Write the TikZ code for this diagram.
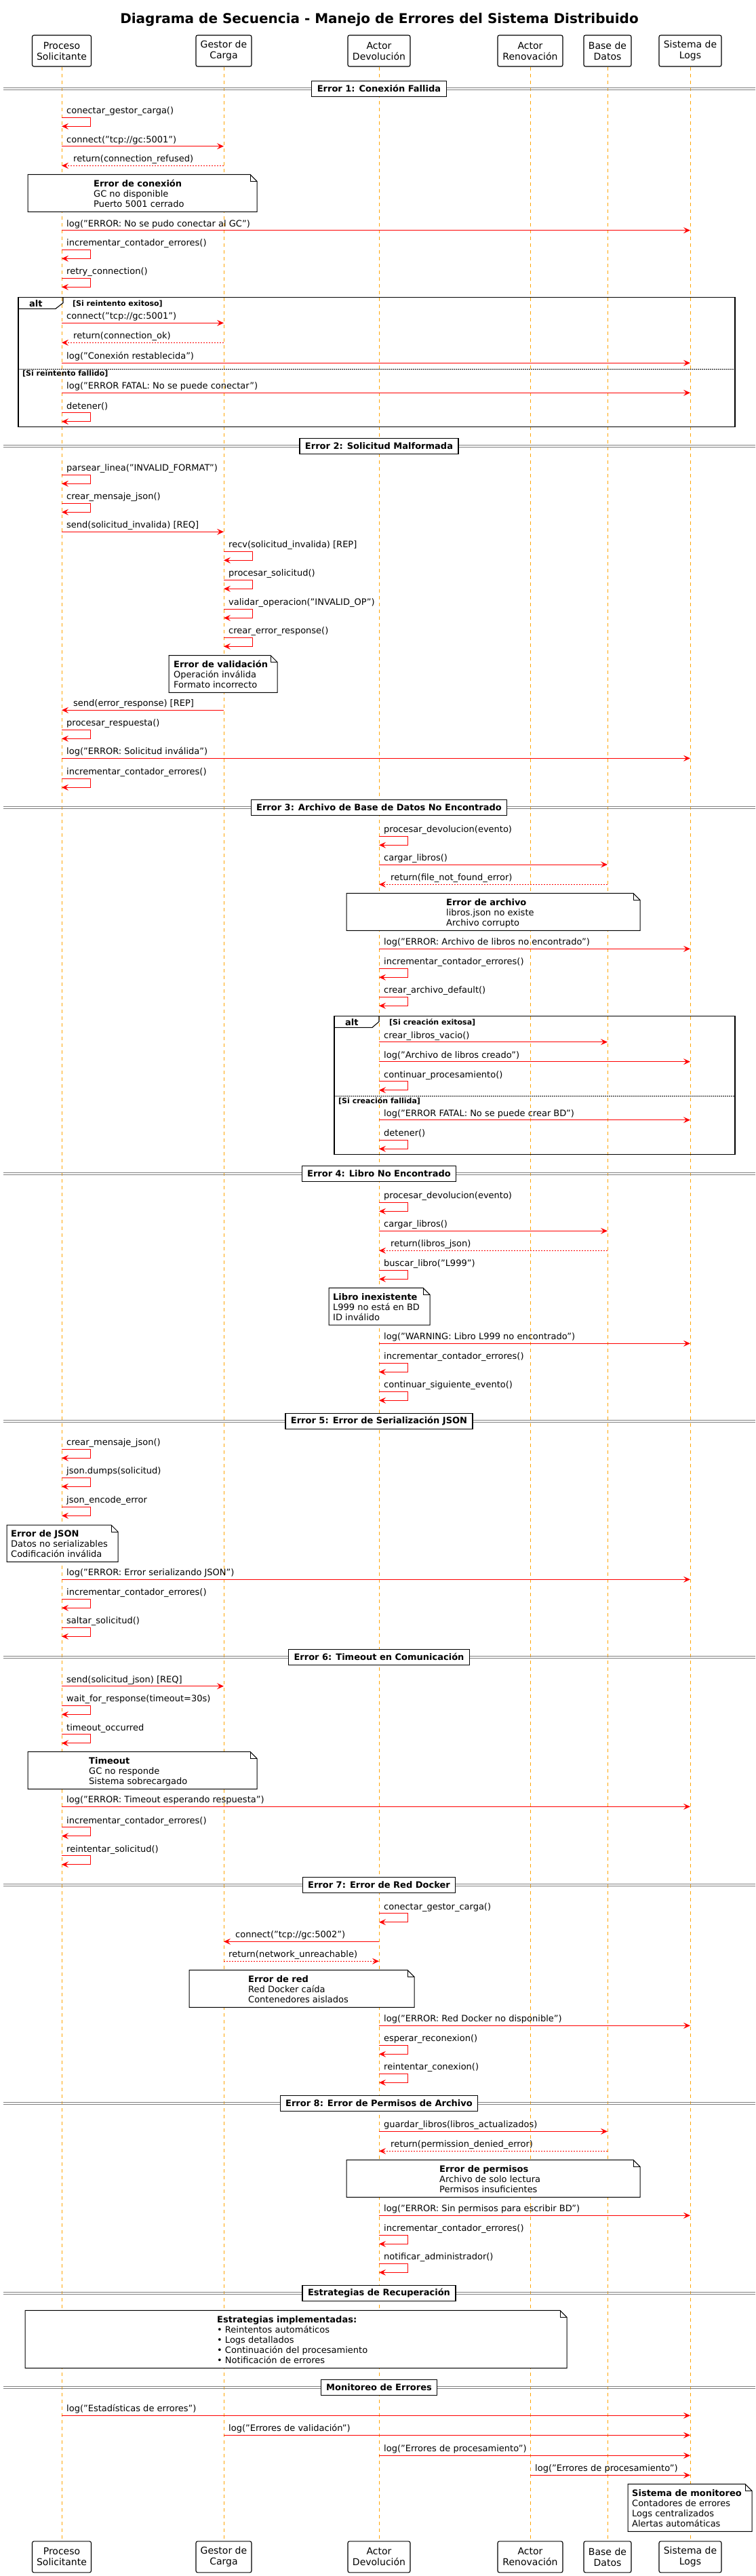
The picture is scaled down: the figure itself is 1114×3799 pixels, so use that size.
\documentclass[tikz,border=0pt]{standalone}
\usepackage{fontspec}
\setmainfont{DejaVu Sans}
\usetikzlibrary{arrows.meta,calc}
\definecolor{llcol}{RGB}{255,165,0}
\definecolor{divgrey}{RGB}{128,128,128}
\tikzset{
  part/.style={draw, line width=1.1pt, rounded corners=2.5pt, fill=white, minimum height=46pt, inner sep=0pt, align=center, font=\fontsize{14}{16}\selectfont},
  lifeline/.style={draw=llcol, line width=0.9pt, dash pattern=on 5pt off 5pt},
  msg/.style={draw=red, line width=1pt},
  arr/.style={-{Stealth[length=10pt,width=9pt,inset=4pt]}},
  ret/.style={dash pattern=on 2pt off 2pt},
  lbl/.style={anchor=base west, inner sep=0pt, font=\fontsize{13}{15}\selectfont},
  notestyle/.style={draw, line width=1pt, fill=white, line join=miter},
  notetext/.style={anchor=north west, inner sep=0pt, align=left, font=\fontsize{13}{15}\selectfont},
  divline/.style={draw=divgrey, line width=1pt},
  divbox/.style={draw, line width=1.2pt, fill=white, minimum height=23pt, inner xsep=8pt, inner ysep=0pt, font=\fontsize{13}{15}\selectfont\bfseries},
  frame/.style={draw, line width=1.1pt},
  sepdot/.style={draw, line width=0.8pt, dash pattern=on 1.5pt off 1.5pt},
  altlbl/.style={anchor=base west, inner sep=0pt, font=\fontsize{13}{15}\selectfont\bfseries},
  guard/.style={anchor=base west, inner sep=0pt, font=\fontsize{11}{13}\selectfont\bfseries},
}
\newcommand\selfmsg[4]{%
  \coordinate (#1a) at (#2 |- 0,#3);
  \coordinate (#1b) at ($(#1a)+(42,0)$);
  \coordinate (#1c) at ($(#1a)+(42,13)$);
  \coordinate (#1d) at ($(#1a)+(0,13)$);
  \draw[msg,arr] (#1a) -- (#1b) -- (#1c) -- (#1d);
  \node[lbl] (#1t) at ($(#1a)+(7,-5.7)$) {#4};
}
\newcommand\msgR[6][]{%
  \coordinate (#2a) at (#3 |- 0,#5);
  \coordinate (#2b) at (#4 |- 0,#5);
  \draw[msg,arr,#1] (#2a) -- (#2b);
  \node[lbl] (#2t) at ($(#2a)+(7,-5.7)$) {#6};
}
\newcommand\msgL[6][]{%
  \coordinate (#2a) at (#3 |- 0,#5);
  \coordinate (#2b) at (#4 |- 0,#5);
  \draw[msg,arr,#1] (#2a) -- (#2b);
  \node[lbl] (#2t) at ($(#2b)+(17,-5.7)$) {#6};
}
\newcommand\notebox[7]{%
  \draw[notestyle] (#2,#3) -- (#4-10,#3) -- (#4,#3+10) -- (#4,#5) -- (#2,#5) -- cycle;
  \draw[line width=0.8pt] (#4-10,#3) -- (#4-10,#3+10) -- (#4,#3+10);
  \node[notetext] (#1) at (#6,#3+5.7) {\rule{0pt}{12pt}#7};
}
\newcommand\divider[3]{%
  \draw[divline] (5,#2-1.35) -- (1114,#2-1.35);
  \draw[divline] (5,#2+1.35) -- (1114,#2+1.35);
  \node[divbox] (#1) at (559,#2) {#3};
}
\begin{document}
\begin{tikzpicture}[x=1pt,y=-1pt]
\useasboundingbox (0,0) rectangle (1114,3799);
\fill[white] (0,0) rectangle (1114,3799);

\node[font=\fontsize{20}{24}\selectfont\bfseries, inner sep=0pt] (title) at (559.5,29) {Diagrama de Secuencia - Manejo de Errores del Sistema Distribuido};

% participants
\node[part, minimum width=87pt] (hP) at (91,75) {Proceso\\Solicitante};
\node[part, minimum width=82pt] (hG) at (330,75) {Gestor de\\Carga};
\node[part, minimum width=92pt] (hD) at (559,75) {Actor\\Devolución};
\node[part, minimum width=96pt] (hR) at (782,75) {Actor\\Renovación};
\node[part, minimum width=70pt] (hB) at (896,75) {Base de\\Datos};
\node[part, minimum width=92pt] (hL) at (1018,75) {Sistema de\\Logs};
\node[part, minimum width=87pt] (fP) at (91,3770.8) {Proceso\\Solicitante};
\node[part, minimum width=82pt] (fG) at (330,3770.8) {Gestor de\\Carga};
\node[part, minimum width=92pt] (fD) at (559,3770.8) {Actor\\Devolución};
\node[part, minimum width=96pt] (fR) at (782,3770.8) {Actor\\Renovación};
\node[part, minimum width=70pt] (fB) at (896,3770.8) {Base de\\Datos};
\node[part, minimum width=92pt] (fL) at (1018,3770.8) {Sistema de\\Logs};

\foreach \p in {P,G,D,R,B,L} {\draw[lifeline] (h\p.south) -- (f\p.north);}

% ---------- Error 1
\divider{d1}{130.7}{Error 1: Conexión Fallida}
\selfmsg{s1}{hP}{173.3}{conectar\_gestor\_carga()}
\msgR{m2}{hP}{hG}{215.7}{connect("tcp://gc:5001")}
\msgL[ret]{m3}{hG}{hP}{244.3}{return(connection\_refused)}
\notebox{n1}{41}{257.3}{379}{312.3}{138}{\textbf{Error de conexión}\\GC no disponible\\Puerto 5001 cerrado}
\msgR{m5}{hP}{hL}{339.7}{log("ERROR: No se pudo conectar al GC")}
\selfmsg{s6}{hP}{368.3}{incrementar\_contador\_errores()}
\selfmsg{s7}{hP}{410.3}{retry\_connection()}
\draw[frame] (27,438.3) rectangle (1084,629.3);
\draw[frame] (27,455.3) -- (82,455.3) -- (93,446.7) -- (93,438.3);
\node[altlbl] (alt1) at (43,452) {alt};
\node[guard] (g1a) at (107,451) {[Si reintento exitoso]};
\draw[sepdot] (27,544.3) -- (1084,544.3);
\node[guard] (g1b) at (33,554) {[Si reintento fallido]};
\msgR{m9}{hP}{hG}{476.3}{connect("tcp://gc:5001")}
\msgL[ret]{m10}{hG}{hP}{505.3}{return(connection\_ok)}
\msgR{m11}{hP}{hL}{535.3}{log("Conexión restablecida")}
\msgR{m12}{hP}{hL}{579.3}{log("ERROR FATAL: No se puede conectar")}
\selfmsg{s13}{hP}{608.7}{detener()}

% ---------- Error 2
\divider{d2}{657.7}{Error 2: Solicitud Malformada}
\selfmsg{s14}{hP}{700.3}{parsear\_linea("INVALID\_FORMAT")}
\selfmsg{s15}{hP}{742.3}{crear\_mensaje\_json()}
\msgR{m16}{hP}{hG}{784.3}{send(solicitud\_invalida) [REQ]}
\selfmsg{s17}{hG}{813.3}{recv(solicitud\_invalida) [REP]}
\selfmsg{s18}{hG}{855.3}{procesar\_solicitud()}
\selfmsg{s19}{hG}{898.3}{validar\_operacion("INVALID\_OP")}
\selfmsg{s20}{hG}{940.3}{crear\_error\_response()}
\notebox{n2}{249}{966.5}{409}{1021.3}{256}{\textbf{Error de validación}\\Operación inválida\\Formato incorrecto}
\msgL{m22}{hG}{hP}{1047.3}{send(error\_response) [REP]}
\selfmsg{s23}{hP}{1076.3}{procesar\_respuesta()}
\msgR{m24}{hP}{hL}{1118.3}{log("ERROR: Solicitud inválida")}
\selfmsg{s25}{hP}{1148.3}{incrementar\_contador\_errores()}

% ---------- Error 3
\divider{d3}{1191}{Error 3: Archivo de Base de Datos No Encontrado}
\selfmsg{s26}{hD}{1233.3}{procesar\_devolucion(evento)}
\msgR{m27}{hD}{hB}{1275}{cargar\_libros()}
\msgL[ret]{m28}{hB}{hD}{1304.3}{return(file\_not\_found\_error)}
\notebox{n3}{511}{1317.3}{944}{1372.3}{658}{\textbf{Error de archivo}\\libros.json no existe\\Archivo corrupto}
\msgR{m30}{hD}{hL}{1399.3}{log("ERROR: Archivo de libros no encontrado")}
\selfmsg{s31}{hD}{1428.3}{incrementar\_contador\_errores()}
\selfmsg{s32}{hD}{1470.3}{crear\_archivo\_default()}
\draw[frame] (493,1498.3) rectangle (1084,1702.3);
\draw[frame] (493,1515.3) -- (549,1515.3) -- (559,1506.7) -- (559,1498.3);
\node[altlbl] (alt2) at (509,1512) {alt};
\node[guard] (g2a) at (574,1511.3) {[Si creación exitosa]};
\draw[sepdot] (493,1616) -- (1084,1616);
\node[guard] (g2b) at (499,1627.3) {[Si creación fallida]};
\msgR{m34}{hD}{hB}{1536.7}{crear\_libros\_vacio()}
\msgR{m35}{hD}{hL}{1565.7}{log("Archivo de libros creado")}
\selfmsg{s36}{hD}{1594.7}{continuar\_procesamiento()}
\msgR{m37}{hD}{hL}{1651.7}{log("ERROR FATAL: No se puede crear BD")}
\selfmsg{s38}{hD}{1681.3}{detener()}

% ---------- Error 4
\divider{d4}{1731}{Error 4: Libro No Encontrado}
\selfmsg{s39}{hD}{1773.3}{procesar\_devolucion(evento)}
\msgR{m40}{hD}{hB}{1815.3}{cargar\_libros()}
\msgL[ret]{m41}{hB}{hD}{1844.3}{return(libros\_json)}
\selfmsg{s42}{hD}{1873.3}{buscar\_libro("L999")}
\notebox{n4}{485}{1899.3}{634}{1954}{491}{\textbf{Libro inexistente}\\L999 no está en BD\\ID inválido}
\msgR{m44}{hD}{hL}{1981.3}{log("WARNING: Libro L999 no encontrado")}
\selfmsg{s45}{hD}{2010.3}{incrementar\_contador\_errores()}
\selfmsg{s46}{hD}{2052.3}{continuar\_siguiente\_evento()}

% ---------- Error 5
\divider{d5}{2095.7}{Error 5: Error de Serialización JSON}
\selfmsg{s47}{hP}{2137.3}{crear\_mensaje\_json()}
\selfmsg{s48}{hP}{2179.3}{json.dumps(solicitud)}
\selfmsg{s49}{hP}{2222.3}{json\_encode\_error}
\notebox{n5}{10}{2249}{174}{2303.3}{16}{\textbf{Error de JSON}\\Datos no serializables\\Codificación inválida}
\msgR{m51}{hP}{hL}{2329.3}{log("ERROR: Error serializando JSON")}
\selfmsg{s52}{hP}{2358.3}{incrementar\_contador\_errores()}
\selfmsg{s53}{hP}{2400.3}{saltar\_solicitud()}

% ---------- Error 6
\divider{d6}{2443.7}{Error 6: Timeout en Comunicación}
\msgR{m54}{hP}{hG}{2486.7}{send(solicitud\_json) [REQ]}
\selfmsg{s55}{hP}{2515.3}{wait\_for\_response(timeout=30s)}
\selfmsg{s56}{hP}{2557.7}{timeout\_occurred}
\notebox{n6}{41}{2583.3}{379}{2638.3}{131}{\textbf{Timeout}\\GC no responde\\Sistema sobrecargado}
\msgR{m58}{hP}{hL}{2664.3}{log("ERROR: Timeout esperando respuesta")}
\selfmsg{s59}{hP}{2694.7}{incrementar\_contador\_errores()}
\selfmsg{s60}{hP}{2736.7}{reintentar\_solicitud()}

% ---------- Error 7
\divider{d7}{2779.7}{Error 7: Error de Red Docker}
\selfmsg{s61}{hD}{2821.7}{conectar\_gestor\_carga()}
\msgL{m62}{hD}{hG}{2863.3}{connect("tcp://gc:5002")}
\msgR[ret]{m63}{hG}{hD}{2892.3}{return(network\_unreachable)}
\notebox{n7}{279}{2905.3}{611}{2960.3}{366}{\textbf{Error de red}\\Red Docker caída\\Contenedores aislados}
\msgR{m65}{hD}{hL}{2987.3}{log("ERROR: Red Docker no disponible")}
\selfmsg{s66}{hD}{3016.3}{esperar\_reconexion()}
\selfmsg{s67}{hD}{3058.3}{reintentar\_conexion()}

% ---------- Error 8
\divider{d8}{3102}{Error 8: Error de Permisos de Archivo}
\msgR{m68}{hD}{hB}{3143.3}{guardar\_libros(libros\_actualizados)}
\msgL[ret]{m69}{hB}{hD}{3172.3}{return(permission\_denied\_error)}
\notebox{n8}{511}{3185.3}{944}{3240.3}{648}{\textbf{Error de permisos}\\Archivo de solo lectura\\Permisos insuficientes}
\msgR{m71}{hD}{hL}{3267.3}{log("ERROR: Sin permisos para escribir BD")}
\selfmsg{s72}{hD}{3296.3}{incrementar\_contador\_errores()}
\selfmsg{s73}{hD}{3338.3}{notificar\_administrador()}

% ---------- Estrategias
\divider{d9}{3381.7}{Estrategias de Recuperación}
\notebox{n9}{37}{3407.3}{836}{3492.3}{320}{\textbf{Estrategias implementadas:}\\• Reintentos automáticos\\• Logs detallados\\• Continuación del procesamiento\\• Notificación de errores}

% ---------- Monitoreo
\divider{d10}{3520.7}{Monitoreo de Errores}
\msgR{m75}{hP}{hL}{3562.3}{log("Estadísticas de errores")}
\msgR{m76}{hG}{hL}{3591.3}{log("Errores de validación")}
\msgR{m77}{hD}{hL}{3621.3}{log("Errores de procesamiento")}
\msgR{m78}{hR}{hL}{3650.3}{log("Errores de procesamiento")}
\notebox{n10}{926}{3663.3}{1109}{3733.3}{932}{\textbf{Sistema de monitoreo}\\Contadores de errores\\Logs centralizados\\Alertas automáticas}
\end{tikzpicture}
\end{document}
